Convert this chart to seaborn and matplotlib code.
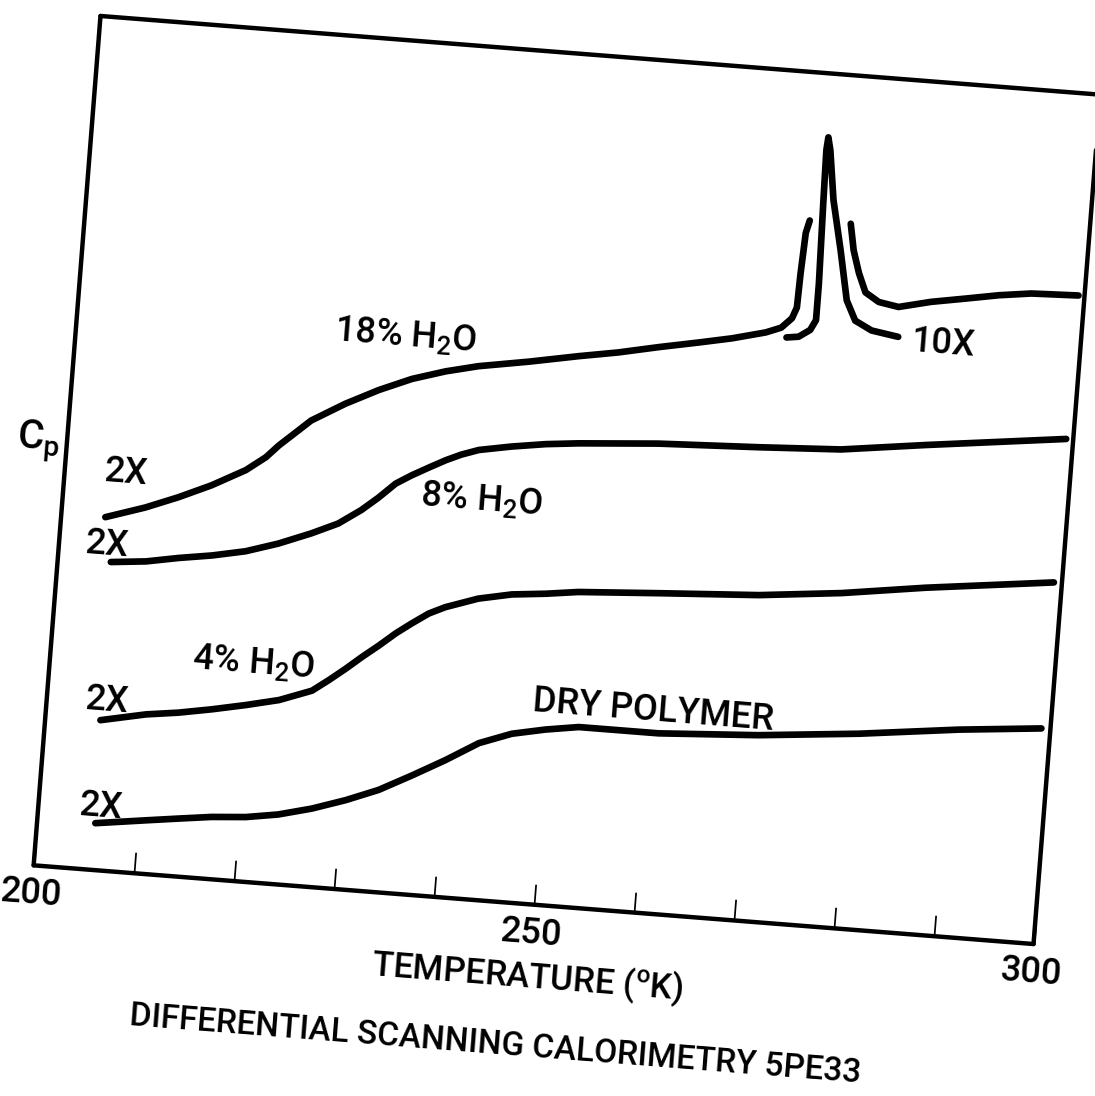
import matplotlib
matplotlib.use("Agg")
import matplotlib.pyplot as plt
import seaborn as sns
from matplotlib.transforms import Affine2D
import mpl_toolkits.axisartist.floating_axes as floating_axes
from mpl_toolkits.axisartist.grid_finder import FixedLocator, DictFormatter

# Cp traces (temperature in K, Cp in arbitrary chart units 0-100)
dry_T = [205.8, 210.8, 214.0, 217.3, 220.7, 223.9, 227.2, 230.5, 233.7, 236.9, 240.1, 243.3,
         246.5, 249.8, 253.1, 261.1, 271.0, 281.0, 290.9, 299.1]
dry_C = [5.5, 6.3, 6.8, 7.3, 7.6, 8.2, 9.2, 10.5, 12.0, 14.0, 16.1, 18.4,
         19.8, 20.6, 21.2, 21.2, 21.9, 23.0, 24.4, 25.3]

h4_T = [205.5, 210.0, 213.2, 216.5, 219.8, 223.1, 226.3, 227.9, 229.5, 231.0, 232.6, 234.2,
        235.7, 237.3, 238.9, 242.1, 245.4, 248.8, 252.0, 260.0, 270.0, 278.2, 286.5, 299.2]
h4_C = [17.6, 18.7, 19.2, 19.9, 20.7, 21.6, 23.0, 24.4, 25.9, 27.4, 28.9, 30.5,
        31.8, 33.1, 34.0, 35.3, 36.1, 36.5, 37.0, 37.6, 38.3, 39.3, 40.7, 42.5]

h8_T = [205.3, 208.8, 212.0, 215.3, 218.6, 221.8, 225.0, 227.6, 229.8, 231.4, 233.0, 234.5,
        236.2, 237.8, 239.3, 241.0, 244.2, 247.6, 250.9, 258.8, 268.8, 277.0, 285.4, 299.3]
h8_C = [36.2, 36.6, 37.3, 37.9, 38.7, 39.9, 41.4, 42.8, 44.6, 46.2, 48.0, 49.1,
        50.2, 51.2, 52.0, 52.7, 53.4, 54.0, 54.4, 55.1, 55.6, 56.1, 57.4, 59.4]

# 18% water: trace before the melting peak, trace after it, and the 10X peak
h18a_T = [204.4, 208.3, 211.5, 214.7, 218.0, 219.9, 221.1, 222.7, 224.1, 227.4, 230.6, 233.8,
          237.1, 240.3, 245.3, 250.2, 254.1, 258.1, 262.0, 265.3, 268.6, 270.1, 271.1, 271.5,
          271.6, 271.8, 272.1]
h18a_C = [41.4, 42.9, 44.4, 46.1, 48.2, 49.9, 51.4, 53.1, 54.6, 56.9, 58.8, 60.4,
          61.6, 62.5, 63.5, 64.6, 65.4, 66.4, 67.3, 68.1, 69.1, 69.8, 71.0, 72.3,
          76.3, 81.1, 82.6]
h18b_T = [276.2, 276.7, 277.4, 278.2, 279.6, 281.6, 284.8, 288.2, 291.5, 294.7, 299.4]
h18b_C = [82.6, 79.5, 76.9, 74.7, 73.7, 73.3, 74.2, 74.9, 75.6, 76.1, 76.3]
peak_T = [270.7, 271.9, 273.0, 273.5, 273.5, 273.3, 273.2, 273.3, 273.6, 274.3, 275.4, 276.4,
          277.4, 279.1, 281.8]
peak_C = [68.7, 68.9, 69.8, 71.0, 75.3, 85.1, 91.0, 92.5, 91.0, 85.2, 79.4, 73.6,
          71.3, 70.3, 69.8]

tick_values = [200, 210, 220, 230, 240, 250, 260, 270, 280, 290, 300]
tick_labels = {200: "200", 250: "250", 300: "300"}

# the scanned page is tilted clockwise by a few degrees
TILT = -4.5
FONT = "Roboto"

sns.set_theme(style="white")
plt.rcParams["font.family"] = [FONT, "DejaVu Sans"]
plt.rcParams["font.weight"] = 500
plt.rcParams["mathtext.default"] = "regular"
plt.rcParams["text.color"] = "black"

tr = Affine2D().scale(10.03, 8.52).rotate_deg(TILT)
grid_helper = floating_axes.GridHelperCurveLinear(
    tr, extremes=(200, 300, 0, 100),
    grid_locator1=FixedLocator(tick_values),
    tick_formatter1=DictFormatter(tick_labels),
    grid_locator2=FixedLocator([0, 100]),
    tick_formatter2=DictFormatter({}))

fig = plt.figure(figsize=(10.95, 10.96), dpi=100)
ax = fig.add_axes([0.02096, 0.1302, 0.9937, 0.86368],
                  axes_class=floating_axes.FloatingAxes, grid_helper=grid_helper)
aux = ax.get_aux_axes(tr)

for side in ["left", "right", "top", "bottom"]:
    ax.axis[side].line.set_linewidth(3.2)
    ax.axis[side].line.set_color("black")
for side in ["left", "right", "top"]:
    ax.axis[side].toggle(ticks=False, ticklabels=False, label=False)

bottom = ax.axis["bottom"]
bottom.major_ticks.set_ticksize(15)
bottom.major_ticks.set_linewidth(2.2)
bottom.major_ticks.set_color("black")
bottom.major_ticklabels.set_fontsize(26)
bottom.major_ticklabels.set_fontweight(500)
bottom.major_ticklabels.set_color("black")
bottom.major_ticklabels.set_pad(9)
bottom.label.set_text("TEMPERATURE ($^{o}$K)")
bottom.label.set_fontsize(25)
bottom.label.set_fontweight(500)
bottom.label.set_color("black")
bottom.label.set_pad(10)

line_kw = dict(color="black", linewidth=4.8, sort=False, estimator=None,
               solid_capstyle="round", solid_joinstyle="round")
for T, C in [(dry_T, dry_C), (h4_T, h4_C), (h8_T, h8_C),
             (h18a_T, h18a_C), (h18b_T, h18b_C), (peak_T, peak_C)]:
    sns.lineplot(x=T, y=C, ax=aux, **line_kw)

text_kw = dict(rotation=TILT, rotation_mode="anchor", ha="left", va="baseline",
               fontsize=26, color="black")
notes = [("18% H$_2$O", 225.7, 64.2), ("10X", 283.1, 68.3), ("8% H$_2$O", 235.5, 45.7),
         ("4% H$_2$O", 214.2, 24.6), ("DRY POLYMER", 248.3, 22.7),
         ("2X", 204.0, 45.6), ("2X", 202.6, 37.0), ("2X", 203.8, 18.8), ("2X", 204.1, 6.3)]
for s, x, y in notes:
    aux.text(x, y, s, **text_kw)
aux.text(195.0, 48.7, "C$_p$", **dict(text_kw, fontsize=29))

aux.text(247.3, -16.8, "DIFFERENTIAL SCANNING CALORIMETRY 5PE33", rotation=TILT,
         rotation_mode="anchor", ha="center", va="center", fontsize=24, color="black")

fig.savefig("out.png", dpi=100, facecolor="white")
